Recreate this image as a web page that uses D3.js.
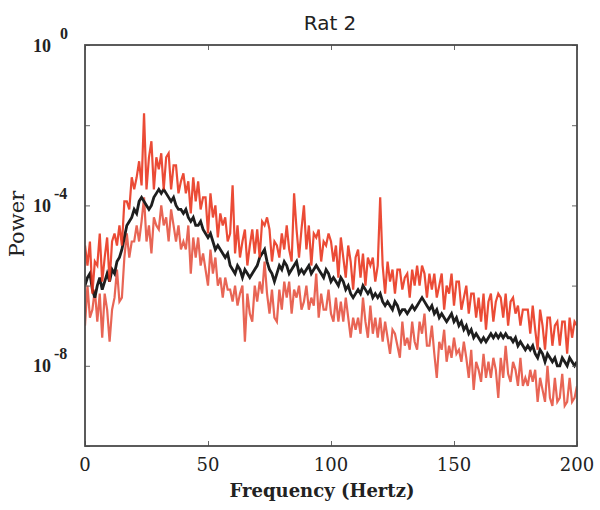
<!DOCTYPE html>
<html>
<head>
<meta charset="utf-8">
<script src="https://cdn.jsdelivr.net/npm/d3@7"></script>
<style>
  body { margin: 0; background: #fff; }
</style>
</head>
<body>
<svg id="spectrum" width="600" height="510"></svg>
<script>
// frequency bins, 1 Hz apart
const frequencies = d3.range(0, 201);

// log10(power), one value per Hz
const meanLog10 = [
  -6.0,-5.8,-5.7,-6.1,-6.3,-6.0,-5.8,-6.1,-5.9,-5.7,-5.9,-5.6,-5.7,-5.4,-5.3,-5.1,-4.8,-4.5,-4.4,-4.3,
  -4.1,-4.2,-3.9,-3.8,-3.9,-4.0,-4.1,-4.0,-3.8,-3.7,-3.6,-3.7,-3.6,-3.7,-3.8,-3.9,-3.8,-4.0,-4.1,-4.1,
  -4.2,-4.1,-4.3,-4.4,-4.3,-4.5,-4.5,-4.4,-4.6,-4.7,-4.8,-4.7,-4.9,-5.1,-5.0,-5.1,-5.2,-5.3,-5.2,-5.5,
  -5.6,-5.7,-5.5,-5.6,-5.8,-5.6,-5.7,-5.8,-5.7,-5.6,-5.5,-5.3,-5.2,-5.1,-5.4,-5.6,-5.7,-5.9,-5.7,-5.5,
  -5.6,-5.4,-5.5,-5.7,-5.6,-5.5,-5.4,-5.7,-5.6,-5.7,-5.6,-5.5,-5.7,-5.6,-5.5,-5.6,-5.7,-5.8,-5.6,-5.7,
  -5.9,-5.8,-5.9,-6.0,-5.8,-5.9,-6.1,-6.0,-6.2,-6.3,-6.2,-6.1,-6.2,-6.0,-6.1,-6.2,-6.1,-6.3,-6.2,-6.3,
  -6.2,-6.4,-6.5,-6.4,-6.5,-6.6,-6.4,-6.5,-6.7,-6.6,-6.6,-6.7,-6.6,-6.5,-6.6,-6.5,-6.4,-6.3,-6.4,-6.5,
  -6.6,-6.5,-6.7,-6.6,-6.8,-6.7,-6.8,-6.9,-6.8,-6.7,-6.9,-6.8,-7.0,-6.9,-7.1,-7.0,-7.2,-7.1,-7.3,-7.2,
  -7.3,-7.4,-7.3,-7.4,-7.3,-7.2,-7.3,-7.2,-7.3,-7.2,-7.3,-7.2,-7.3,-7.3,-7.4,-7.3,-7.5,-7.4,-7.5,-7.6,
  -7.5,-7.6,-7.5,-7.7,-7.8,-7.6,-7.7,-7.9,-7.7,-7.8,-7.9,-7.8,-8.0,-8.0,-7.8,-7.9,-8.0,-7.8,-7.9,-8.0,
  -7.9
];

const upperLog10 = [
  -5.0,-5.5,-4.9,-6.2,-5.4,-5.5,-4.7,-5.9,-5.3,-4.8,-5.9,-4.9,-4.7,-5.0,-4.5,-5.0,-3.9,-3.9,-4.1,-3.3,
  -3.6,-3.3,-2.9,-3.5,-1.7,-3.6,-2.8,-2.4,-3.6,-2.8,-3.1,-2.7,-3.6,-2.8,-2.7,-3.6,-3.0,-3.0,-3.7,-3.4,
  -3.2,-3.7,-3.4,-4.2,-3.3,-3.9,-3.4,-4.1,-3.8,-3.8,-4.7,-3.7,-4.3,-4.0,-4.8,-4.2,-4.5,-4.3,-4.9,-4.7,
  -3.5,-5.2,-4.5,-5.3,-4.9,-4.6,-5.5,-5.0,-4.6,-5.2,-4.6,-5.3,-4.4,-4.5,-4.3,-4.6,-5.4,-4.9,-5.0,-5.3,
  -4.7,-5.1,-4.5,-5.1,-5.4,-3.7,-4.6,-5.3,-4.6,-4.0,-5.1,-4.5,-5.5,-4.7,-4.8,-4.6,-5.4,-4.9,-5.0,-4.7,
  -4.9,-5.4,-5.0,-5.8,-4.8,-5.3,-5.8,-5.0,-5.4,-6.1,-5.3,-5.1,-5.8,-5.2,-6.0,-5.3,-5.5,-5.3,-5.9,-5.5,
  -3.8,-5.5,-6.2,-5.4,-5.9,-5.6,-6.2,-5.6,-5.6,-6.1,-5.8,-5.7,-6.3,-5.6,-6.0,-5.5,-6.0,-5.5,-5.7,-6.3,
  -5.7,-6.1,-5.7,-6.3,-6.0,-5.7,-6.6,-6.0,-6.2,-5.7,-6.5,-5.9,-5.9,-6.6,-6.3,-6.0,-6.7,-6.2,-6.2,-6.8,
  -6.3,-6.9,-6.2,-7.1,-6.4,-6.2,-6.9,-6.4,-6.2,-6.3,-6.8,-6.2,-7.0,-6.4,-6.3,-6.7,-6.5,-7.0,-6.6,-6.6,
  -6.6,-7.2,-6.5,-7.1,-7.6,-6.6,-7.0,-7.6,-6.8,-6.8,-7.5,-7.0,-6.9,-7.5,-6.9,-6.9,-7.7,-6.8,-7.3,-6.9,
  -7.0
];

const lowerLog10 = [
  -7.0,-6.0,-6.8,-6.6,-6.1,-6.9,-6.2,-7.3,-6.2,-6.6,-7.4,-6.6,-6.3,-5.6,-6.4,-6.3,-5.3,-4.7,-5.3,-4.9,
  -4.9,-4.5,-4.9,-4.4,-3.8,-4.9,-4.5,-5.2,-4.3,-4.5,-4.6,-4.0,-4.5,-4.3,-4.9,-4.1,-4.5,-4.9,-4.5,-5.1,
  -4.9,-5.1,-4.5,-5.7,-4.8,-5.3,-4.8,-5.5,-5.2,-5.6,-6.0,-5.1,-5.7,-5.3,-6.0,-5.8,-6.3,-5.8,-6.1,-6.1,
  -6.4,-6.0,-6.5,-6.2,-6.0,-7.4,-6.2,-6.7,-6.9,-6.0,-6.4,-5.9,-6.2,-5.4,-6.2,-6.7,-6.1,-6.8,-6.9,-6.1,
  -6.6,-5.9,-6.3,-5.9,-6.7,-6.1,-6.3,-6.0,-6.6,-6.4,-6.0,-6.6,-6.3,-6.5,-5.7,-6.8,-6.2,-6.6,-6.6,-6.1,
  -6.7,-6.9,-6.3,-6.9,-6.4,-6.9,-6.3,-6.8,-7.3,-6.8,-7.1,-6.8,-7.2,-6.3,-6.9,-7.3,-6.5,-7.2,-6.8,-7.3,
  -6.8,-7.4,-6.9,-7.3,-7.7,-7.1,-7.2,-7.5,-7.8,-6.9,-7.5,-7.3,-7.6,-6.9,-7.4,-7.6,-6.9,-7.2,-6.7,-7.5,
  -7.5,-7.0,-7.7,-8.3,-7.4,-7.6,-7.1,-7.9,-7.5,-7.8,-7.3,-7.7,-7.6,-7.9,-7.4,-7.8,-8.3,-7.6,-8.6,-7.9,
  -8.1,-8.4,-7.7,-8.3,-7.9,-8.3,-7.8,-8.1,-8.8,-7.8,-8.3,-7.5,-8.2,-8.4,-7.9,-8.1,-8.5,-7.8,-8.5,-8.3,
  -8.5,-8.1,-8.4,-8.1,-8.9,-8.3,-8.6,-8.9,-8.0,-8.8,-9.0,-8.3,-8.9,-8.8,-8.2,-9.0,-8.9,-8.3,-8.9,-8.8,
  -8.5
];

const xTicks = [0, 50, 100, 150, 200];
const yTickExponents = [0, -2, -4, -6, -8, -10];
const yLabelExponents = [0, -4, -8];

const svg = d3.select("#spectrum");
const width = +svg.attr("width");
const height = +svg.attr("height");
const margin = { top: 45, left: 85, right: 23, bottom: 64 };
const innerWidth = width - margin.left - margin.right;
const innerHeight = height - margin.top - margin.bottom;

const xScale = d3.scaleLinear().domain([0, 200]).range([0, innerWidth]);
const yScale = d3.scaleLog().domain([1e-10, 1]).range([innerHeight, 0]);

const g = svg.append("g").attr("transform", `translate(${margin.left},${margin.top})`);

g.append("defs")
  .append("clipPath")
  .attr("id", "clip")
  .append("rect")
  .attr("width", innerWidth)
  .attr("height", innerHeight);

const chart = g.append("g").attr("clip-path", "url(#clip)");

const makeLine = (series) =>
  d3.line()
    .x((d, i) => xScale(frequencies[i]))
    .y((d) => yScale(Math.pow(10, d)))(series);

// lower trace, then the mean, then the upper trace on top
chart.append("path")
  .attr("d", makeLine(lowerLog10))
  .attr("fill", "none")
  .attr("stroke", "#e0321c")
  .attr("stroke-opacity", 0.75)
  .attr("stroke-width", 2.2);

chart.append("path")
  .attr("d", makeLine(meanLog10))
  .attr("fill", "none")
  .attr("stroke", "#1e1e1e")
  .attr("stroke-width", 2.8);

chart.append("path")
  .attr("d", makeLine(upperLog10))
  .attr("fill", "none")
  .attr("stroke", "#e8321a")
  .attr("stroke-opacity", 0.88)
  .attr("stroke-width", 2.2);

// ticks on all four sides, pointing in
const yTickValues = yTickExponents.map((e) => Math.pow(10, e));
const styleAxis = (sel) => {
  sel.select(".domain").remove();
  sel.selectAll(".tick line").attr("stroke", "#666").attr("stroke-width", 1);
  sel.selectAll(".tick text").remove();
};

g.append("g").attr("transform", `translate(0,${innerHeight})`)
  .call(d3.axisBottom(xScale).tickValues(xTicks).tickSize(-5)).call(styleAxis);
g.append("g")
  .call(d3.axisTop(xScale).tickValues(xTicks).tickSize(-5)).call(styleAxis);
g.append("g")
  .call(d3.axisLeft(yScale).tickValues(yTickValues).tickSize(-5)).call(styleAxis);
g.append("g").attr("transform", `translate(${innerWidth},0)`)
  .call(d3.axisRight(yScale).tickValues(yTickValues).tickSize(-5)).call(styleAxis);

// frame
g.append("rect")
  .attr("width", innerWidth)
  .attr("height", innerHeight)
  .attr("fill", "none")
  .attr("stroke", "#4a4a4a")
  .attr("stroke-width", 1.8);

// x tick labels (placed in page coordinates)
svg.selectAll(".xlabel")
  .data(xTicks)
  .enter()
  .append("text")
  .attr("class", "xlabel")
  .attr("x", (d) => margin.left + xScale(d))
  .attr("y", margin.top + innerHeight + 25)
  .attr("text-anchor", "middle")
  .attr("font-family", "DejaVu Serif, serif")
  .attr("font-size", 18)
  .attr("fill", "#222")
  .text((d) => d);

// y tick labels: 10 with a raised exponent
const yLabels = svg.selectAll(".ylabel")
  .data(yLabelExponents)
  .enter()
  .append("text")
  .attr("class", "ylabel")
  .attr("x", margin.left - 52)
  .attr("y", (d) => margin.top + yScale(Math.pow(10, d)) + 6.5)
  .attr("font-family", "Liberation Serif, serif")
  .attr("font-size", 18)
  .attr("font-weight", "bold")
  .attr("fill", "#222");
yLabels.append("tspan").text("10");
yLabels.append("tspan")
  .attr("dx", (d) => (d < 0 ? 3 : 9))
  .attr("dy", -13)
  .attr("font-size", 16)
  .text((d) => (d < 0 ? "-" + -d : d));

// title
svg.append("text")
  .attr("x", 330)
  .attr("y", 30)
  .attr("text-anchor", "middle")
  .attr("font-family", "DejaVu Sans, sans-serif")
  .attr("font-size", 20)
  .attr("fill", "#222")
  .text("Rat 2");

// axis titles
svg.append("text")
  .attr("x", 322)
  .attr("y", 497)
  .attr("text-anchor", "middle")
  .attr("font-family", "DejaVu Serif, serif")
  .attr("font-size", 18)
  .attr("font-weight", "bold")
  .attr("fill", "#222")
  .text("Frequency (Hertz)");

svg.append("text")
  .attr("transform", "translate(24,224) rotate(-90)")
  .attr("text-anchor", "middle")
  .attr("font-family", "DejaVu Serif, serif")
  .attr("font-size", 21)
  .attr("fill", "#222")
  .text("Power");
</script>
</body>
</html>
